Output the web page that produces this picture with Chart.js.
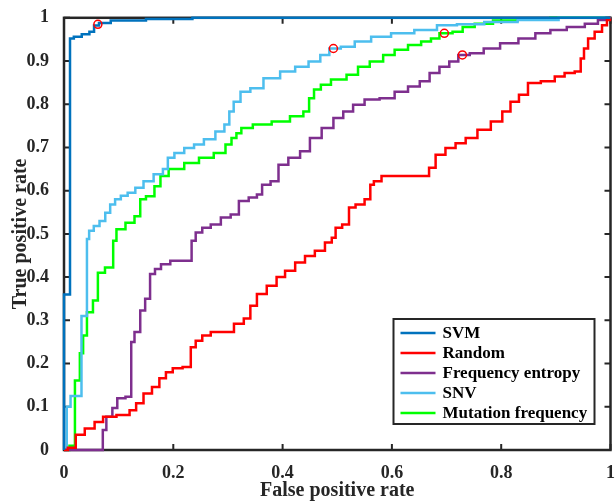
<!DOCTYPE html>
<html>
<head>
<meta charset="utf-8">
<script src="https://cdn.jsdelivr.net/npm/chart.js@4.4.1/dist/chart.umd.min.js"></script>
<style>
  html, body { margin: 0; padding: 0; background: #fff; }
  #wrap { width: 616px; height: 501px; }
</style>
</head>
<body>
<div id="wrap"><canvas id="rocChart"></canvas></div>
<script>
// ROC curves: [false positive rate, true positive rate]
const seriesNames = ['SVM', 'Random', 'Frequency entropy', 'SNV', 'Mutation frequency'];
const seriesColors = ['#0072BD', '#FF0000', '#7E2F8E', '#4DBEEE', '#00FF00'];

const svmRoc = [[0,0],[0,0.36],[0.011,0.36],[0.011,0.952],[0.025,0.956],[0.04,0.962],[0.053,0.968],
  [0.057,0.982],[0.071,0.988],[0.1,0.994],[0.2,0.997],[0.27,1],[1,1]];

const randomRoc = [[0,0],[0.014,0.005],[0.029,0.035],[0.047,0.05],[0.065,0.065],[0.078,0.077],[0.114,0.081],
  [0.126,0.092],[0.138,0.108],[0.153,0.131],[0.169,0.146],[0.18,0.166],[0.193,0.18],[0.205,0.189],[0.229,0.192],
  [0.235,0.238],[0.247,0.253],[0.259,0.265],[0.278,0.273],[0.302,0.273],[0.32,0.292],[0.338,0.304],[0.344,0.334],
  [0.362,0.361],[0.38,0.38],[0.398,0.4],[0.411,0.415],[0.435,0.434],[0.447,0.449],[0.471,0.461],[0.484,0.48],
  [0.496,0.491],[0.498,0.514],[0.52,0.522],[0.523,0.561],[0.544,0.568],[0.556,0.58],[0.565,0.614],[0.569,0.622],
  [0.593,0.634],[0.665,0.634],[0.671,0.653],[0.689,0.683],[0.707,0.699],[0.726,0.71],[0.744,0.722],[0.769,0.741],
  [0.793,0.76],[0.811,0.783],[0.823,0.806],[0.842,0.822],[0.856,0.849],[0.889,0.853],[0.907,0.864],[0.925,0.872],
  [0.944,0.876],[0.947,0.906],[0.956,0.929],[0.962,0.952],[0.98,0.968],[0.989,0.983],[0.998,0.995],[1,1]];

const entropyRoc = [[0,0],[0.071,0],[0.071,0.046],[0.084,0.077],[0.093,0.097],[0.102,0.12],[0.123,0.123],
  [0.123,0.25],[0.135,0.273],[0.144,0.323],[0.153,0.35],[0.162,0.407],[0.171,0.419],[0.184,0.43],[0.205,0.438],
  [0.232,0.438],[0.235,0.484],[0.247,0.503],[0.259,0.514],[0.278,0.522],[0.296,0.538],[0.314,0.545],[0.326,0.576],
  [0.35,0.584],[0.356,0.591],[0.369,0.614],[0.387,0.622],[0.398,0.66],[0.423,0.676],[0.441,0.691],[0.459,0.722],
  [0.484,0.745],[0.502,0.768],[0.52,0.783],[0.538,0.799],[0.562,0.811],[0.593,0.814],[0.617,0.829],[0.642,0.841],
  [0.66,0.853],[0.678,0.872],[0.696,0.887],[0.714,0.899],[0.729,0.914],[0.756,0.918],[0.78,0.929],[0.816,0.941],
  [0.847,0.952],[0.878,0.964],[0.902,0.972],[0.938,0.979],[0.968,0.986],[0.986,0.995],[1,1]];

const snvRoc = [[0,0],[0.005,0],[0.005,0.1],[0.012,0.1],[0.012,0.125],[0.032,0.125],[0.032,0.31],[0.042,0.31],
  [0.042,0.488],[0.05,0.507],[0.059,0.518],[0.071,0.53],[0.08,0.549],[0.089,0.568],[0.098,0.58],[0.11,0.588],
  [0.123,0.595],[0.138,0.607],[0.153,0.622],[0.175,0.638],[0.187,0.65],[0.193,0.676],[0.211,0.687],[0.229,0.699],
  [0.247,0.707],[0.265,0.719],[0.289,0.737],[0.298,0.753],[0.307,0.783],[0.314,0.806],[0.332,0.829],[0.35,0.837],
  [0.38,0.86],[0.411,0.876],[0.435,0.887],[0.46,0.899],[0.478,0.914],[0.493,0.929],[0.52,0.933],[0.544,0.945],
  [0.58,0.956],[0.617,0.964],[0.665,0.972],[0.70,0.983],[0.738,0.985],[0.8,0.99],[0.86,0.995],[0.95,1],[1,1]];

const mutationRoc = [[0,0],[0.02,0.01],[0.02,0.161],[0.029,0.161],[0.029,0.224],[0.035,0.224],[0.035,0.265],
  [0.042,0.265],[0.042,0.319],[0.053,0.319],[0.053,0.346],[0.062,0.346],[0.062,0.41],[0.075,0.41],[0.075,0.422],
  [0.09,0.422],[0.09,0.484],[0.102,0.511],[0.123,0.526],[0.135,0.541],[0.144,0.58],[0.156,0.587],[0.175,0.61],
  [0.178,0.634],[0.205,0.65],[0.235,0.664],[0.259,0.676],[0.289,0.687],[0.302,0.707],[0.311,0.722],[0.32,0.733],
  [0.329,0.745],[0.362,0.753],[0.398,0.76],[0.429,0.772],[0.447,0.783],[0.45,0.814],[0.465,0.834],[0.475,0.845],
  [0.502,0.857],[0.532,0.868],[0.544,0.887],[0.575,0.899],[0.593,0.914],[0.617,0.926],[0.642,0.937],[0.665,0.945],
  [0.678,0.952],[0.696,0.964],[0.726,0.968],[0.733,0.979],[0.77,0.986],[0.8,0.994],[0.86,0.997],[0.92,1],[1,1]];

// red circles marking the chosen operating points
const cutoffPoints = [[0.062,0.985],[0.493,0.929],[0.696,0.964],[0.729,0.914]];

const xTicks = [0, 0.2, 0.4, 0.6, 0.8, 1];
const yTicks = [0, 0.1, 0.2, 0.3, 0.4, 0.5, 0.6, 0.7, 0.8, 0.9, 1];

const serif = "'Liberation Serif', 'Times New Roman', serif";
const axisColor = '#262626';

const toXY = pts => pts.map(p => ({x: p[0], y: p[1]}));
const allRocs = [svmRoc, randomRoc, entropyRoc, snvRoc, mutationRoc];

// box round the plot with ticks pointing inwards (matlab style)
const axisBox = {
  id: 'axisBox',
  beforeDatasetsDraw(chart) {
    const {ctx, chartArea: a, scales: {x, y}} = chart;
    ctx.save();
    ctx.strokeStyle = axisColor;
    ctx.lineWidth = 2.5;
    ctx.strokeRect(a.left, a.top, a.right - a.left, a.bottom - a.top);
    ctx.lineWidth = 2;
    ctx.beginPath();
    xTicks.forEach(v => {
      const px = x.getPixelForValue(v);
      ctx.moveTo(px, a.bottom); ctx.lineTo(px, a.bottom - 6);
      ctx.moveTo(px, a.top); ctx.lineTo(px, a.top + 6);
    });
    yTicks.forEach(v => {
      const py = y.getPixelForValue(v);
      ctx.moveTo(a.left, py); ctx.lineTo(a.left + 6, py);
      ctx.moveTo(a.right, py); ctx.lineTo(a.right - 6, py);
    });
    ctx.stroke();
    ctx.restore();
  }
};

// legend box inside the lower right corner
const boxLegend = {
  id: 'boxLegend',
  afterDraw(chart) {
    const {ctx, chartArea: a} = chart;
    const w = 201, h = 105;
    const left = a.right - 16 - w, top = a.bottom - 26 - h;
    ctx.save();
    ctx.fillStyle = '#fff';
    ctx.fillRect(left, top, w, h);
    ctx.strokeStyle = axisColor;
    ctx.lineWidth = 2;
    ctx.strokeRect(left, top, w, h);
    ctx.font = 'bold 17px ' + serif;
    ctx.textBaseline = 'middle';
    ctx.fillStyle = '#000';
    seriesNames.forEach((name, i) => {
      const yy = top + 14 + i * 20;
      ctx.strokeStyle = seriesColors[i];
      ctx.lineWidth = 2.5;
      ctx.beginPath();
      ctx.moveTo(left + 7, yy);
      ctx.lineTo(left + 42, yy);
      ctx.stroke();
      ctx.fillText(name, left + 49, yy + 1);
    });
    ctx.restore();
  }
};

const datasets = allRocs.map((pts, i) => ({
  label: seriesNames[i],
  data: toXY(pts),
  borderColor: seriesColors[i],
  borderWidth: 2.5,
  pointRadius: 0,
  stepped: 'middle',
  fill: false,
  clip: 4
}));
datasets.unshift({
  label: 'cutoff',
  type: 'scatter',
  data: toXY(cutoffPoints),
  pointRadius: 4,
  pointBorderWidth: 1.5,
  pointBorderColor: '#FF0000',
  pointBackgroundColor: 'rgba(0,0,0,0)',
  showLine: false,
  clip: 6
});

new Chart(document.getElementById('rocChart'), {
  type: 'line',
  data: { datasets: datasets },
  plugins: [axisBox, boxLegend],
  options: {
    responsive: true,
    maintainAspectRatio: false,
    animation: false,
    layout: { padding: { top: 16, right: 1, left: 0, bottom: 0 } },
    plugins: {
      legend: { display: false },
      tooltip: { enabled: false }
    },
    scales: {
      x: {
        type: 'linear',
        min: 0, max: 1,
        grid: { display: false },
        border: { display: false },
        afterBuildTicks: s => { s.ticks = xTicks.map(v => ({value: v})); },
        afterFit: s => { s.height = 51; s.paddingRight = 0; },
        ticks: {
          color: axisColor,
          padding: 5,
          maxRotation: 0,
          font: { family: serif, size: 18, weight: 'bold' },
          callback: v => String(Number(v.toFixed(1)))
        },
        title: {
          display: true,
          text: 'False positive rate',
          color: axisColor,
          padding: 0,
          font: { family: serif, size: 20, weight: 'bold', lineHeight: 1 }
        }
      },
      y: {
        type: 'linear',
        min: 0, max: 1,
        grid: { display: false },
        border: { display: false },
        afterBuildTicks: s => { s.ticks = yTicks.map(v => ({value: v})); },
        afterFit: s => { s.width = 64; },
        ticks: {
          color: axisColor,
          padding: 7,
          font: { family: serif, size: 18, weight: 'bold' },
          callback: v => String(Number(v.toFixed(1)))
        },
        title: {
          display: true,
          text: 'True positive rate',
          color: axisColor,
          padding: { top: 11, bottom: 0 },
          font: { family: serif, size: 20, weight: 'bold', lineHeight: 1 }
        }
      }
    }
  }
});
</script>
</body>
</html>
